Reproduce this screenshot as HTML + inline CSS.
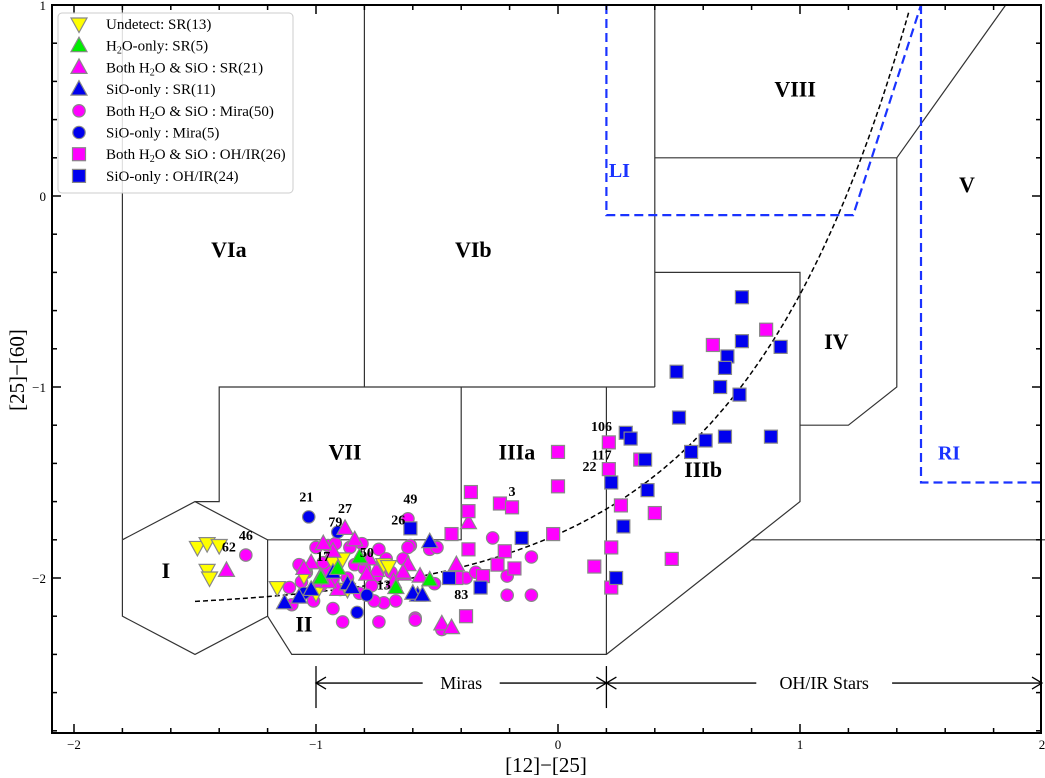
<!DOCTYPE html>
<html><head><meta charset="utf-8"><style>
html,body{margin:0;padding:0;background:#fff;}
svg{display:block;font-family:"Liberation Serif",serif;}
</style></head><body>
<svg id="chart" width="1045" height="778" viewBox="0 0 1045 778" xmlns="http://www.w3.org/2000/svg">
<g id="regions" fill="none" stroke="#333" stroke-width="1.2"></g>
<g id="overlay"></g>
<g id="marks"></g>
<g id="axes"></g>
</svg>
<script>
// ---------- data ----------
const undetectSR = [[-1.49,-1.84],[-1.45,-1.82],[-1.40,-1.83],[-1.45,-1.96],[-1.44,-2.00],[-1.16,-2.05],[-1.05,-1.99],[-0.93,-1.92],[-0.89,-1.90],[-0.72,-1.93],[-0.70,-1.94],[-0.87,-2.06],[-1.00,-2.08]];
const h2oOnlySR = [[-0.91,-1.95],[-0.82,-1.89],[-0.67,-2.05],[-0.53,-2.01],[-0.98,-2.00]];
const bothSR = [[-1.37,-1.96],[-0.88,-1.74],[-0.93,-1.86],[-1.02,-1.92],[-0.62,-1.93],[-0.75,-1.96],[-0.79,-1.98],[-0.64,-1.98],[-0.42,-1.93],[-0.48,-2.24],[-0.44,-2.26],[-0.37,-1.71],[-0.64,-1.97],[-0.97,-1.82],[-0.91,-2.06],[-0.68,-2.02],[-1.05,-1.95],[-0.84,-1.80],[-0.57,-1.99],[-0.95,-2.02],[-0.78,-1.90]];
const sioOnlySR = [[-0.98,-1.99],[-1.13,-2.13],[-0.53,-1.81],[-0.58,-2.09],[-1.02,-2.06],[-0.87,-2.03],[-0.93,-1.97],[-0.60,-2.08],[-1.07,-2.10],[-0.85,-2.05],[-0.56,-2.09]];
const bothMira = [[-1.29,-1.88],[-1.00,-1.84],[-0.95,-1.83],[-0.92,-1.82],[-0.86,-1.84],[-0.81,-1.82],[-0.74,-1.85],[-1.07,-1.93],[-1.04,-1.97],[-0.96,-1.96],[-0.93,-2.01],[-0.87,-2.00],[-1.11,-2.05],[-1.01,-2.12],[-1.10,-2.14],[-0.93,-2.16],[-0.89,-2.23],[-0.74,-2.23],[-0.82,-2.08],[-0.72,-2.13],[-0.59,-2.21],[-0.61,-1.83],[-0.62,-1.69],[-0.53,-1.85],[-0.51,-2.03],[-0.38,-2.00],[-0.71,-1.94],[-0.75,-1.99],[-0.71,-1.90],[-0.27,-1.79],[-0.11,-1.89],[-0.34,-1.97],[-0.21,-1.99],[-0.21,-2.09],[-0.11,-2.09],[-0.59,-2.22],[-0.48,-2.27],[-0.90,-2.06],[-0.84,-1.93],[-0.67,-2.12],[-0.76,-2.12],[-0.98,-2.04],[-0.62,-1.84],[-0.69,-1.97],[-1.06,-2.02],[-0.97,-1.92],[-0.80,-1.95],[-0.64,-1.90],[-0.77,-2.04],[-0.50,-1.84]];
const sioOnlyMira = [[-1.03,-1.68],[-0.91,-1.76],[-1.05,-2.08],[-0.79,-2.09],[-0.83,-2.18]];
const bothOHIR = [[0.86,-0.70],[0.64,-0.78],[0.21,-1.29],[0.34,-1.38],[0.21,-1.43],[0.26,-1.62],[0.40,-1.66],[0.22,-1.84],[0.15,-1.94],[0.47,-1.90],[0.22,-2.05],[0.00,-1.34],[0.00,-1.52],[-0.36,-1.55],[-0.37,-1.65],[-0.24,-1.61],[-0.19,-1.63],[-0.44,-1.77],[-0.37,-1.85],[-0.22,-1.86],[-0.02,-1.77],[-0.18,-1.95],[-0.25,-1.93],[-0.31,-1.99],[-0.38,-2.20],[-0.42,-2.00]];
const sioOnlyOHIR = [[0.76,-0.53],[0.76,-0.76],[0.70,-0.84],[0.69,-0.90],[0.49,-0.92],[0.67,-1.00],[0.75,-1.04],[0.92,-0.79],[0.50,-1.16],[0.69,-1.26],[0.88,-1.26],[0.28,-1.24],[0.30,-1.27],[0.36,-1.38],[0.61,-1.28],[0.55,-1.34],[0.22,-1.50],[0.37,-1.54],[0.27,-1.73],[0.24,-2.00],[-0.15,-1.79],[-0.32,-2.05],[-0.45,-2.00],[-0.61,-1.74]];
const starLabels = ["21","27","79","49","26","46","62","17","50","13","83","3","106","117","22"];
const starLabelPos = [[-1.04,-1.60],[-0.88,-1.66],[-0.92,-1.73],[-0.61,-1.61],[-0.66,-1.72],[-1.29,-1.80],[-1.36,-1.86],[-0.97,-1.91],[-0.79,-1.89],[-0.72,-2.06],[-0.40,-2.11],[-0.19,-1.57],[0.18,-1.23],[0.18,-1.38],[0.13,-1.44]];
const xTicks = [-2,-1,0,1,2];
const yTicks = [1,0,-1,-2];
// ---------- scales ----------
const L=52,R=1041,T=5,B=733;
const X = v => 558 + 242*v;
const Y = v => 196 - 191*v;
const NS="http://www.w3.org/2000/svg";
function mk(tag, attrs, parent){const e=document.createElementNS(NS,tag);for(const k in attrs)e.setAttribute(k,attrs[k]);parent.appendChild(e);return e;}
const reg=document.getElementById('regions'), ov=document.getElementById('overlay'), mg=document.getElementById('marks'), ax=document.getElementById('axes');
const pt = p => X(p[0]).toFixed(1)+','+Y(p[1]).toFixed(1);
const regionLines = [
 [[-1.8,1.0],[-1.8,-1.8]],
 [[-1.8,-1.8],[-1.5,-1.6],[-1.2,-1.8],[-1.2,-2.2],[-1.5,-2.4],[-1.8,-2.2],[-1.8,-1.8]],
 [[-1.5,-1.6],[-1.4,-1.6],[-1.4,-1.0],[0.4,-1.0]],
 [[-1.2,-1.8],[-0.4,-1.8],[-0.4,-1.0]],
 [[-0.8,1.0],[-0.8,-1.0]],
 [[0.4,1.0],[0.4,-1.0]],
 [[0.4,0.2],[1.4,0.2],[1.85,1.0]],
 [[1.4,0.2],[1.4,-1.0],[1.2,-1.2],[1.0,-1.2]],
 [[0.4,-0.4],[1.0,-0.4],[1.0,-1.6],[0.2,-2.4],[-1.1,-2.4],[-1.2,-2.2]],
 [[0.2,-1.0],[0.2,-2.4]],
 [[-0.8,-1.8],[-0.8,-2.4]],
 [[0.8,-1.8],[2.1,-1.8]]
];
regionLines.forEach((ln,i)=>{const e=mk('polyline',{points:ln.map(pt).join(' ')},reg);

});
const li=mk('polyline',{points:[[0.2,1.0],[0.2,-0.1],[1.22,-0.1],[1.5,1.0]].map(pt).join(' '),fill:'none',stroke:'#1a33ff','stroke-width':2.2,'stroke-dasharray':'9,5'},ov);


const ri=mk('polyline',{points:[[1.5,1.0],[1.5,-1.5],[2.05,-1.5]].map(pt).join(' '),fill:'none',stroke:'#1a33ff','stroke-width':2.2,'stroke-dasharray':'9,5'},ov);


// model curve
const curveA=-2.17, curveB=0.40, curveC=1.42;
let cp=[];for(let x=-1.5;x<=1.5;x+=0.01){const y=curveA+curveB*Math.exp(curveC*x);if(y>1.0)break;cp.push([x,y]);}
const cv=mk('polyline',{points:cp.map(pt).join(' '),fill:'none',stroke:'#000','stroke-width':1.5,'stroke-dasharray':'5,3'},ov);


const regionNames=["I","II","VII","VIa","VIb","IIIa","IIIb","IV","VIII","V"];
const regionLabelPos=[[-1.62,-2.00],[-1.05,-2.28],[-0.88,-1.38],[-1.36,-0.32],[-0.35,-0.32],[-0.17,-1.38],[0.60,-1.47],[1.15,-0.80],[0.98,0.52],[1.69,0.02]];
regionNames.forEach((n,i)=>{const t=mk('text',{x:X(regionLabelPos[i][0]),y:Y(regionLabelPos[i][1]),'font-size':22,'font-weight':'bold','text-anchor':'middle'},ov);t.textContent=n;

});
[["LI",0.21,0.1],["RI",1.57,-1.38]].forEach(d=>{const t=mk('text',{x:X(d[1]),y:Y(d[2]),'font-size':20,'font-weight':'bold',fill:'#1a33ff'},ov);t.textContent=d[0];

});
const ay=Y(-2.55);
function arrowSeg(x1,x2,label,name){const g=mk('g',{},ov);


const a=X(x1),b=X(x2),m=(a+b)/2,tw=label.length*4.9+14;
mk('line',{x1:a,y1:ay,x2:m-tw,y2:ay,stroke:'#000','stroke-width':1.3},g);
mk('line',{x1:m+tw,y1:ay,x2:b,y2:ay,stroke:'#000','stroke-width':1.3},g);
mk('polyline',{points:`${a+10},${ay-6} ${a},${ay} ${a+10},${ay+6}`,fill:'none',stroke:'#000','stroke-width':1.3},g);
mk('polyline',{points:`${b-10},${ay-6} ${b},${ay} ${b-10},${ay+6}`,fill:'none',stroke:'#000','stroke-width':1.3},g);
const t=mk('text',{x:m,y:ay+6,'font-size':18,'text-anchor':'middle'},g);t.textContent=label;}
arrowSeg(-1,0.2,"Miras","miras-range");
arrowSeg(0.2,2.0,"OH/IR Stars","ohir-range");
[-1,0.2].forEach(v=>mk('line',{x1:X(v),y1:ay-17,x2:X(v),y2:ay+25,stroke:'#000','stroke-width':1.3},ov));
function marker(g,shape,cx,cy,fill){
 const st={fill:fill,stroke:'#888','stroke-width':1.2};
 if(shape==='sq')return mk('rect',Object.assign({x:cx-6.5,y:cy-6.5,width:13,height:13},st),g);
 if(shape==='ci')return mk('circle',Object.assign({cx:cx,cy:cy,r:6.2},st),g);
 if(shape==='up')return mk('polygon',Object.assign({points:`${cx},${cy-8.5} ${cx-8},${cy+6} ${cx+8},${cy+6}`},st),g);
 return mk('polygon',Object.assign({points:`${cx},${cy+8.5} ${cx-8},${cy-6} ${cx+8},${cy-6}`},st),g);
}
const series=[
 [bothMira,'ci','#ff00ff','both-mira'],
 [sioOnlyMira,'ci','#0000ee','sio-only-mira'],
 [undetectSR,'dn','#ffff00','undetect-sr'],
 [bothSR,'up','#ff00ff','both-sr'],
 [sioOnlySR,'up','#0000ee','sio-only-sr'],
 [h2oOnlySR,'up','#00ee00','h2o-only-sr'],
 [bothOHIR,'sq','#ff00ff','both-ohir'],
 [sioOnlyOHIR,'sq','#0000ee','sio-only-ohir']
];
series.forEach(s=>{const g=mk('g',{},mg);


s[0].forEach(p=>{const e=marker(g,s[1],X(p[0]),Y(p[1]),s[2]);

});});
starLabels.forEach((n,i)=>{const t=mk('text',{x:X(starLabelPos[i][0]),y:Y(starLabelPos[i][1]),'font-size':14,'font-weight':'bold','text-anchor':'middle'},mg);t.textContent=n;

});
const fr=mk('rect',{x:L,y:T,width:R-L,height:B-T,fill:'none',stroke:'#000','stroke-width':2},ax);


for(let k=-21;k<=20;k++){const v=k/10; if(k%2!==0)continue; const px=X(v); if(px<L||px>R)continue;
 const maj=(k%10===0), len=maj?9:5;
 mk('line',{x1:px,y1:B,x2:px,y2:B-len,stroke:'#000','stroke-width':1.5},ax);
 mk('line',{x1:px,y1:T,x2:px,y2:T+len,stroke:'#000','stroke-width':1.5},ax);}
for(let k=-28;k<=10;k+=2){const v=k/10,py=Y(v); if(py<T||py>B)continue; const maj=(k%10===0),len=maj?9:5;
 mk('line',{x1:L,y1:py,x2:L+len,y2:py,stroke:'#000','stroke-width':1.5},ax);
 mk('line',{x1:R,y1:py,x2:R-len,y2:py,stroke:'#000','stroke-width':1.5},ax);}
xTicks.forEach(v=>{const t=mk('text',{x:X(v),y:B+16,'font-size':13,'text-anchor':'middle'},ax);t.textContent=(v<0?'\u2212':'')+Math.abs(v);

});
yTicks.forEach(v=>{const t=mk('text',{x:L-6,y:Y(v)+5,'font-size':13,'text-anchor':'end'},ax);t.textContent=(v<0?'\u2212':'')+Math.abs(v);

});
const xt=mk('text',{x:546,y:772,'font-size':21,'text-anchor':'middle'},ax);xt.textContent='[12]\u2212[25]';


const yt=mk('text',{x:0,y:0,'font-size':21,'text-anchor':'middle',transform:'translate(24,370) rotate(-90)'},ax);yt.textContent='[25]\u2212[60]';


const lg=mk('g',{},ax);


mk('rect',{x:58,y:13,width:235,height:180,rx:4,fill:'#fff','fill-opacity':0.85,stroke:'#ccc','stroke-width':1},lg);
const legShapes=['dn','up','up','up','ci','ci','sq','sq'];
const legColors=['#ffff00','#00ee00','#ff00ff','#0000ee','#ff00ff','#0000ee','#ff00ff','#0000ee'];
const legTexts=['Undetect: SR(13)','H<tspan font-size="10" dy="3">2</tspan><tspan dy="-3">O-only: SR(5)</tspan>','Both H<tspan font-size="10" dy="3">2</tspan><tspan dy="-3">O &amp; SiO : SR(21)</tspan>','SiO-only : SR(11)','Both H<tspan font-size="10" dy="3">2</tspan><tspan dy="-3">O &amp; SiO : Mira(50)</tspan>','SiO-only : Mira(5)','Both H<tspan font-size="10" dy="3">2</tspan><tspan dy="-3">O &amp; SiO : OH/IR(26)</tspan>','SiO-only : OH/IR(24)'];
legTexts.forEach((s,i)=>{const y=24+i*21.7;const g=mk('g',{},lg);


marker(g,legShapes[i],79,y,legColors[i]);
const t=mk('text',{x:106,y:y+5,'font-size':15},g);t.innerHTML=s;});
</script>
</body></html>
